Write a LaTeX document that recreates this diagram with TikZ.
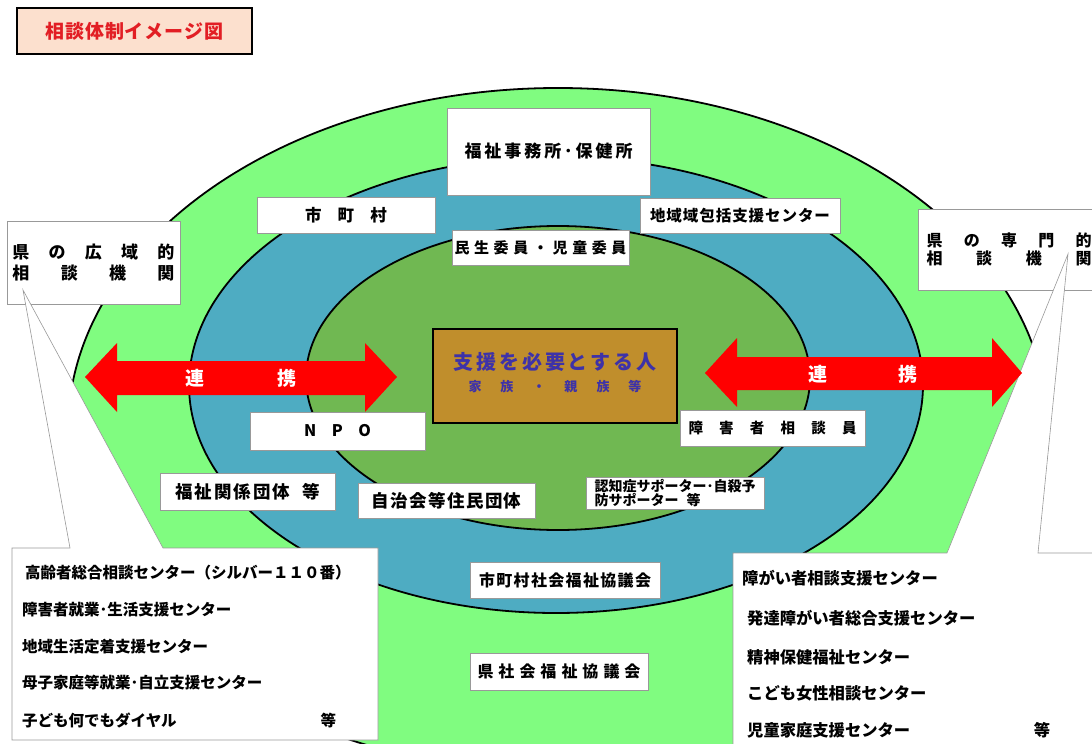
\documentclass[tikz,border=0pt]{standalone}
\usepackage{fontspec}
\setmainfont{Noto Sans CJK JP}
\usepackage{tikz}

\definecolor{outergreen}{RGB}{128,252,128}
\definecolor{ringteal}{RGB}{78,172,194}
\definecolor{innergreen}{RGB}{112,184,82}
\definecolor{personfill}{RGB}{192,142,44}
\definecolor{persontext}{RGB}{62,50,168}
\definecolor{titlefill}{RGB}{252,224,206}
\definecolor{titlered}{RGB}{226,30,36}

\newcommand\setfs[2]{\fontsize{#1}{#2}\selectfont}
\makeatletter
\newcommand\spread[2]{\makebox[#1][s]{\def\spr@sep{}\@tfor\spr@c:=#2\do{\spr@sep\spr@c\def\spr@sep{\hfill}}}}
\makeatother

\begin{document}
\begin{tikzpicture}[x=1pt,y=-1pt,
    ring/.style={draw=black, line width=1.8pt},
    box/.style={draw=gray!80, fill=white, line width=0.6pt, inner sep=0pt, font=\bfseries},
    callout/.style={draw=gray!80, fill=white, line width=0.6pt},
    link/.style={text=white, inner sep=0pt, font={\bfseries\setfs{19}{19}}},
    item/.style={anchor=west, inner sep=0pt, font={\bfseries\setfs{15.5}{15.5}}},
    itemr/.style={anchor=west, inner sep=0pt, font={\bfseries\setfs{16.3}{16.3}}}]
    \useasboundingbox (0,0) rectangle (1092,744);
    \clip (0,0) rectangle (1092,744);

    % draw rings
    \draw[ring, fill=outergreen] (558,430) ellipse [x radius=490, y radius=342];
    \draw[ring, fill=ringteal] (556,385) ellipse [x radius=367, y radius=228];
    \draw[ring, fill=innergreen] (558,378) ellipse [x radius=252, y radius=152];

    % draw title
    \node[draw=black, line width=2.5pt, fill=titlefill, text=titlered, inner sep=0pt,
          minimum width=235pt, minimum height=46pt, font=\bfseries] (title) at (134.5,31)
          {\setfs{19}{19}\spread{178pt}{相談体制イメージ図}};

    % draw boxes on the rings
    \node[box, minimum width=203pt, minimum height=87pt] (office) at (548.5,151.5) {\setfs{17}{17}\spread{168pt}{福祉事務所･保健所}};
    \node[box, minimum width=178pt, minimum height=36pt] (town) at (346,215) {\setfs{16.5}{16.5}\spread{82pt}{市町村}};
    \node[box, minimum width=200pt, minimum height=35pt] (center) at (740,215.5) {\setfs{15.5}{15.5}\spread{180pt}{地域域包括支援センター}};
    \node[box, minimum width=177pt, minimum height=35pt] (member) at (540.5,247.5) {\setfs{15}{15}\spread{172pt}{民生委員・児童委員}};
    \node[box, minimum width=173pt, minimum height=83pt, align=center, font={\bfseries\setfs{17}{21}}] (wide) at (93.5,262.5)
          {\spread{162pt}{県の広域的}\\\spread{162pt}{相談機関}};
    \node[box, minimum width=182pt, minimum height=81pt, align=center, font={\bfseries\setfs{16}{18}}] (expert) at (1009,249.5)
          {\spread{165pt}{県の専門的}\\\spread{165pt}{相談機関}};
    \node[box, minimum width=175pt, minimum height=38pt] (npo) at (337.5,431) {\setfs{16}{16}\spread{67pt}{NPO}};
    \node[box, minimum width=185pt, minimum height=36pt] (counsel) at (772.5,428) {\setfs{14.5}{14.5}\spread{168pt}{障害者相談員}};
    \node[box, minimum width=175pt, minimum height=37pt] (groups) at (247.5,491.5) {\setfs{17.5}{17.5}\spread{115pt}{福祉関係団体}\hspace{12pt}等};
    \node[box, minimum width=178pt, minimum height=32pt, align=left, font={\bfseries\setfs{14}{14.5}}] (supporter) at (675,493)
          {認知症サポーター･自殺予\\防サポーター\hspace{8pt}等};
    \node[box, minimum width=177pt, minimum height=35pt] (residents) at (446.5,500.5) {\setfs{17.5}{17.5}\spread{150pt}{自治会等住民団体}};
    \node[box, minimum width=190pt, minimum height=36pt] (towncouncil) at (565,580) {\setfs{16}{16}\spread{172pt}{市町村社会福祉協議会}};
    \node[box, minimum width=178pt, minimum height=37pt] (prefcouncil) at (559,671.5) {\setfs{16}{16}\spread{163pt}{県社会福祉協議会}};

    % draw person box
    \node[draw=black, line width=2pt, fill=personfill, minimum width=244pt, minimum height=94pt] (person) at (555,376) {};
    \node[text=persontext, inner sep=0pt, font=\bfseries] (need) at (555,362) {\setfs{20}{20}\spread{203pt}{支援を必要とする人}};
    \node[text=persontext, inner sep=0pt, font=\bfseries] (family) at (555,387) {\setfs{13}{13}\spread{173pt}{家族・親族等}};

    % draw callouts
    \coordinate (tipleft) at (23,290);
    \coordinate (tipright) at (1068,254);
    \draw[callout] (12,548) -- (70,548) -- (tipleft) -- (163,548) -- (378,548) -- (378,740) -- (12,740) -- cycle;
    \draw[callout] (733,553) -- (947,553) -- (tipright) -- (1038,553) -- (1100,553) -- (1100,760) -- (733,760) -- cycle;

    % draw arrows
    \fill[red] (85,377) -- (117,343) -- (117,361) -- (365,361) -- (365,343) -- (397,377)
               -- (365,412) -- (365,395) -- (117,395) -- (117,412) -- cycle;
    \fill[red] (705,373) -- (737,338) -- (737,357) -- (992,357) -- (992,338) -- (1022,373)
               -- (992,407) -- (992,390) -- (737,390) -- (737,407) -- cycle;
    \node[link] (linkleft) at (241,378) {\spread{111pt}{連携}};
    \node[link] (linkright) at (863,374) {\spread{109pt}{連携}};

    % draw lists
    \node[item] (elder) at (25,573) {高齢者総合相談センター（シルバー１１０番）};
    \node[item] (work) at (22,610) {障害者就業･生活支援センター};
    \node[item] (settle) at (22,647) {地域生活定着支援センター};
    \node[item] (single) at (22,683) {母子家庭等就業･自立支援センター};
    \node[item] (dial) at (22,720) {\makebox[314pt][l]{子ども何でもダイヤル\hfill 等}};
    \node[itemr] (disab) at (742,578) {障がい者相談支援センター};
    \node[itemr] (devel) at (747,618) {発達障がい者総合支援センター};
    \node[itemr] (mental) at (747,657) {精神保健福祉センター};
    \node[itemr] (women) at (747,693) {こども女性相談センター};
    \node[itemr] (child) at (747,730) {\makebox[303pt][l]{児童家庭支援センター\hfill 等}};
\end{tikzpicture}
\end{document}
